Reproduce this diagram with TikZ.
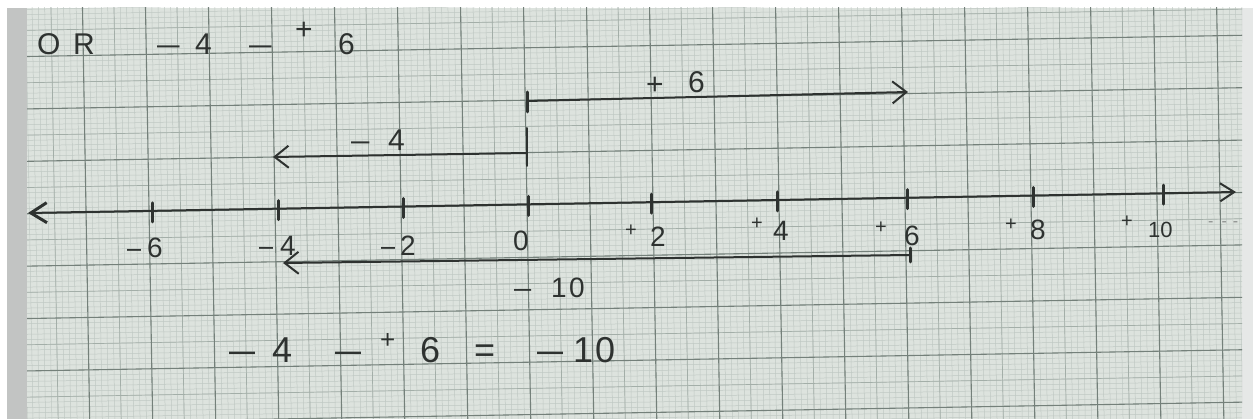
\documentclass[tikz,border=0pt]{standalone}
\usepackage{fontspec}
\setmainfont{Liberation Sans}
\usetikzlibrary{arrows.meta}
\definecolor{paper}{HTML}{DDE3DE}
\definecolor{edgec}{HTML}{C2C4C3}
\definecolor{rimc}{HTML}{E6E8E7}
\definecolor{minorc}{HTML}{BFC8C3}
\definecolor{medc}{HTML}{A3AEA8}
\definecolor{majorc}{HTML}{74807A}
\definecolor{ink}{HTML}{2E3230}
\newcommand\hwt[2]{\rlap{\kern#1pt #2}}
\newcommand\hwplus[2]{\raisebox{#2pt}{\fontsize{#1}{#1}\selectfont+}}
\newcommand\hwdash[1]{\scalebox{#1}[1]{–}}
\begin{document}
\begin{tikzpicture}[x=1pt,y=-1pt,
  minorln/.style={draw=minorc,line width=0.5pt},
  medln/.style={draw=medc,line width=0.7pt},
  majorln/.style={draw=majorc,line width=1.1pt},
  inkln/.style={draw=ink,line width=2pt,line cap=round},
  tickln/.style={draw=ink,line width=3pt,line cap=round},
  barb/.style={-{Straight Barb[length=14pt,width=22pt,line width=2pt]}},
  hw/.style={text=ink,inner sep=0pt,anchor=base west},
]
\useasboundingbox (0,0) rectangle (1253,419);
% paper
\fill[white] (0,0) rectangle (1253,419);
\fill[edgec] (7,8) rectangle (27,419);
\fill[paper] (27,8) rectangle (1242,419);
\fill[rimc] (1242,8) rectangle (1253,419);
% grid
\begin{scope}
\clip (27,8) rectangle (1242,419);
\begin{scope}[rotate around={1:(527,205)}]
  \foreach \i in {-90,...,120} \draw[minorln] ({527+6.3*\i},-40) -- ({527+6.3*\i},460);
  \foreach \j in {-45,...,45} \draw[minorln] (-40,{205+5.24*\j}) -- (1300,{205+5.24*\j});
  \foreach \i in {-9,...,12} \draw[medln] ({527+63*\i+31.5},-40) -- ({527+63*\i+31.5},460);
  \foreach \j in {-5,...,4} \draw[medln] (-40,{205+52.4*\j+26.2}) -- (1300,{205+52.4*\j+26.2});
  \foreach \i in {-9,...,12} \draw[majorln] ({527+63*\i},-40) -- ({527+63*\i},460);
  \foreach \j in {-5,...,5} \draw[majorln] (-40,{205+52.4*\j}) -- (1300,{205+52.4*\j});
\end{scope}
\end{scope}

% number line
\coordinate (axL) at (28,213);
\coordinate (axR) at (1236,192);
\draw[inkln,{Straight Barb[length=16pt,width=20pt,line width=3pt]}-{Straight Barb[length=14pt,width=18pt,line width=2pt]}] (axL) -- (axR);
\coordinate (tm6) at (152,210.8);
\coordinate (tm4) at (278,208.6);
\coordinate (tm2) at (403,206.5);
\coordinate (t0) at (528,204.3);
\coordinate (tp2) at (651,202.1);
\coordinate (tp4) at (777,199.9);
\coordinate (tp6) at (907,197.7);
\coordinate (tp8) at (1033,195.5);
\coordinate (tp10) at (1163,193.2);
\foreach \t in {tm6,tm4,tm2,t0,tp2,tp4,tp6,tp8,tp10}
  \draw[tickln] (\t) ++(0,-8) -- ++(0,19);

% axis labels
\begin{scope}[every node/.style={hw,font=\fontsize{28}{30}\selectfont}]
\node (lm6) at (127,258) {\hwt{0}{\hwdash{0.9}}\hwt{20}{6}\kern40pt};
\node (lm4) at (259,256) {\hwt{0}{\hwdash{0.9}}\hwt{21}{4}\kern40pt};
\node (lm2) at (381,256) {\hwt{0}{\hwdash{0.9}}\hwt{19}{2}\kern38pt};
\node (l0) at (513,251) {0};
\node (lp2) at (625,247) {\hwt{0}{\hwplus{20}{10}}\hwt{25}{2}\kern40pt};
\node (lp4) at (751,241) {\hwt{0}{\hwplus{20}{11}}\hwt{22}{4}\kern40pt};
\node (lp6) at (875,246) {\hwt{0}{\hwplus{20}{12}}\hwt{29}{6}\kern46pt};
\node (lp8) at (1005,240) {\hwt{0}{\hwplus{20}{9}}\hwt{25}{8}\kern40pt};
\node (lp10) at (1121,238) {\hwt{0}{\hwplus{20}{10}}\hwt{27}{\fontsize{22}{24}\selectfont 10}\kern62pt};
\node[text=ink!55,font=\fontsize{16}{18}\selectfont] (ldash) at (1208,227) {-\kern8pt-\kern6pt-};
\end{scope}

% +6 arrow
\coordinate (p6s) at (527,101);
\coordinate (p6e) at (908,92);
\draw[tickln] (p6s) ++(0,-9) -- ++(0,20);
\draw[inkln,barb] (p6s) -- (p6e);
\node[hw,font=\fontsize{30}{32}\selectfont] (lbp6) at (646,93) {\hwt{0}{\raisebox{-2pt}{+}}\hwt{42}{6}\kern62pt};

% -4 arrow
\coordinate (m4top) at (527,128);
\coordinate (m4s) at (527,153);
\coordinate (m4bot) at (527,166);
\coordinate (m4e) at (273,157);
\draw[inkln] (m4top) -- (m4bot);
\draw[inkln,barb] (m4s) -- (m4e);
\node[hw,font=\fontsize{30}{32}\selectfont] (lbm4) at (351,151) {\hwt{0}{\hwdash{1.1}}\hwt{37}{4}\kern56pt};

% -10 arrow
\coordinate (m10s) at (910,255);
\coordinate (m10e) at (283,263);
\draw[tickln] (m10s) ++(0,-7) -- ++(0,14);
\draw[inkln,barb] (m10s) -- (m10e);
\node[hw,font=\fontsize{28}{30}\selectfont] (lbm10) at (514,298) {\hwt{0}{\hwdash{1.1}}\hwt{37}{1}\hwt{55}{0}\kern85pt};

% top line
\node[hw,font=\fontsize{30}{32}\selectfont] (orl) at (37,55) {\hwt{0}{O}\hwt{36}{R}\kern68pt};
\node[hw,font=\fontsize{30}{32}\selectfont] (topeq) at (157,55) {\hwt{0}{\hwdash{1.35}}\hwt{38}{4}\hwt{92}{\hwdash{1.35}}\hwt{138}{\hwplus{30}{15}}\hwt{181}{6}\kern210pt};

% bottom equation
\node[hw,font=\fontsize{36}{38}\selectfont] (boteq) at (229,363) {\hwt{0}{\hwdash{1.3}}\hwt{43}{4}\hwt{106}{\hwdash{1.3}}\hwt{151}{\hwplus{26}{14}}\hwt{191}{6}\hwt{245}{=}\hwt{308}{\hwdash{1.3}}\hwt{344}{1}\hwt{366}{0}\kern400pt};
\end{tikzpicture}
\end{document}
